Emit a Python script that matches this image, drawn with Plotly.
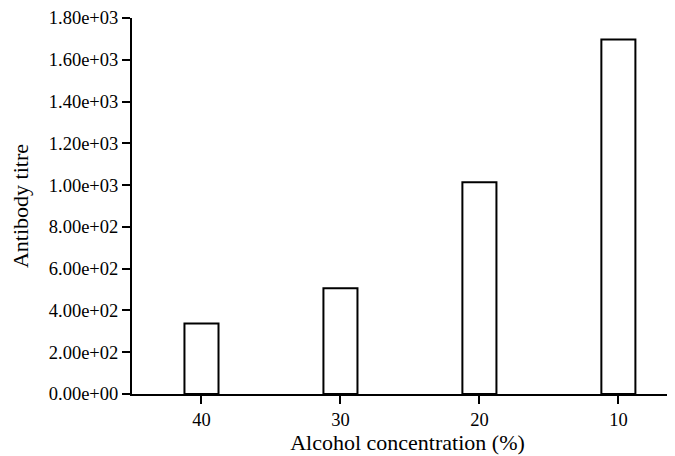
import plotly.graph_objects as go

categories = ["40", "30", "20", "10"]
titre = [338, 506, 1014, 1697]
y_tickvals = [0, 200, 400, 600, 800, 1000, 1200, 1400, 1600, 1800]
y_ticktext = ["0.00e+00", "2.00e+02", "4.00e+02", "6.00e+02", "8.00e+02",
              "1.00e+03", "1.20e+03", "1.40e+03", "1.60e+03", "1.80e+03"]

font = dict(family="Liberation Serif", size=18.5, color="black")

fig = go.Figure(
    go.Bar(
        x=categories, y=titre, width=0.245,
        marker=dict(color="white", line=dict(color="black", width=2)),
    )
)
fig.update_layout(
    width=675, height=456,
    margin=dict(l=124, r=0, t=7, b=70),
    plot_bgcolor="white", paper_bgcolor="white",
    font=font, showlegend=False,
)
fig.update_xaxes(
    type="category", range=[-0.5, 3.465],
    showline=True, linecolor="black", linewidth=2,
    ticks="outside", ticklen=8, tickwidth=1.5, tickcolor="black",
    showgrid=False, zeroline=False,
    title=dict(text="Alcohol concentration (%)", standoff=3),
)
fig.update_yaxes(
    range=[0, 1800], tickvals=y_tickvals, ticktext=y_ticktext,
    ticklabeloverflow="allow",
    showline=True, linecolor="black", linewidth=2,
    ticks="outside", ticklen=8, tickwidth=2, tickcolor="black",
    showgrid=False, zeroline=False,
    title=dict(text="Antibody titre", standoff=16),
)
fig.write_html("out.html")
